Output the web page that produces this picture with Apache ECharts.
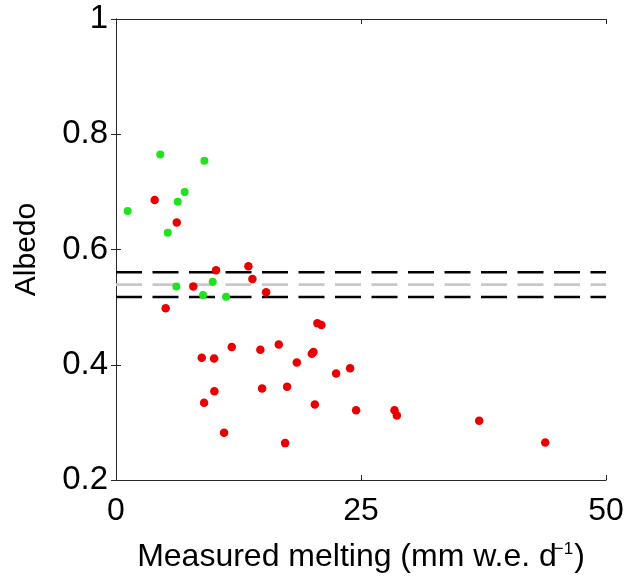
<!DOCTYPE html>
<html>
<head>
<meta charset="utf-8">
<script src="https://cdn.jsdelivr.net/npm/echarts@6/dist/echarts.min.js"></script>
<style>
html,body{margin:0;padding:0;background:#fff;}
#chart{width:629px;height:580px;}
</style>
</head>
<body>
<div id="chart"></div>
<script>
// Red points: [measured melting, albedo]
var redPoints = [
  [3.95,0.686],[6.20,0.647],[10.21,0.564],[13.51,0.571],[13.92,0.549],[7.89,0.536],
  [15.32,0.526],[5.07,0.498],[8.75,0.412],[10.01,0.411],[11.81,0.431],[14.73,0.426],
  [16.61,0.435],[18.45,0.404],[10.04,0.354],[8.99,0.334],[14.91,0.359],[17.46,0.362],
  [11.03,0.282],[17.26,0.264],[20.55,0.472],[20.96,0.469],[20.15,0.422],[19.98,0.419],
  [22.46,0.385],[23.89,0.394],[20.29,0.331],[24.50,0.321],[28.42,0.321],[28.66,0.312],
  [37.06,0.303],[43.80,0.265]
];
// Green points
var greenPoints = [
  [1.19,0.667],[4.52,0.765],[9.02,0.754],[7.01,0.700],[6.30,0.683],
  [5.28,0.629],[6.16,0.536],[9.87,0.544],[8.88,0.521],[11.23,0.518]
];
// Horizontal reference levels
var meanLevel = 0.539;
var upperLevel = 0.5605;
var lowerLevel = 0.5175;
var xRange = [0, 50];
var yRange = [0.2, 1];
var xTickInterval = 25;
var yTickInterval = 0.2;

var chart = echarts.init(document.getElementById('chart'), null, {renderer:'canvas'});
var axisLineStyle = {color:'#262626', width:1};
var font = 'Liberation Sans, Arial, Helvetica, sans-serif';

function hline(level, color) {
  return {
    type:'line', data:[[xRange[0],level],[xRange[1],level]],
    symbol:'none', silent:true, z:1,
    lineStyle:{color:color, width:2.6, type:[26,10.5]}
  };
}

chart.setOption({
  animation:false,
  backgroundColor:'#ffffff',
  grid:{left:116, right:23, top:19, bottom:100, show:false},
  xAxis:[{
    type:'value', min:xRange[0], max:xRange[1], interval:xTickInterval,
    position:'bottom',
    name:'Measured melting (mm w.e. d{sup|−1})',
    nameLocation:'middle', nameGap:61,
    nameTextStyle:{fontFamily:font, fontSize:32, color:'#000',
      rich:{sup:{fontFamily:font, fontSize:17, color:'#000', verticalAlign:'top', lineHeight:12, padding:[0,1,0,-3]}}},
    axisLine:{show:true, lineStyle:axisLineStyle},
    axisTick:{show:true, inside:true, length:5, lineStyle:axisLineStyle},
    axisLabel:{fontFamily:font, fontSize:32, color:'#000', margin:15},
    splitLine:{show:false}
  },{
    type:'value', min:xRange[0], max:xRange[1], interval:xTickInterval,
    position:'top',
    axisLine:{show:true, lineStyle:axisLineStyle},
    axisTick:{show:true, inside:true, length:5, lineStyle:axisLineStyle},
    axisLabel:{show:false}, splitLine:{show:false}
  }],
  yAxis:[{
    type:'value', min:yRange[0], max:yRange[1], interval:yTickInterval,
    position:'left',
    name:'Albedo', nameLocation:'middle', nameGap:74,
    nameTextStyle:{fontFamily:font, fontSize:30, color:'#000'},
    axisLine:{show:true, lineStyle:axisLineStyle},
    axisTick:{show:true, inside:true, length:5, lineStyle:axisLineStyle},
    axisLabel:{fontFamily:font, fontSize:33, color:'#000', margin:8},
    splitLine:{show:false}
  },{
    type:'value', min:yRange[0], max:yRange[1], interval:yTickInterval,
    position:'right',
    axisLine:{show:true, lineStyle:axisLineStyle},
    axisTick:{show:true, inside:true, length:5, lineStyle:axisLineStyle},
    axisLabel:{show:false}, splitLine:{show:false}
  }],
  series:[
    hline(upperLevel, '#000000'),
    hline(meanLevel, '#c8c8c8'),
    hline(lowerLevel, '#000000'),
    {type:'scatter', data:redPoints, symbol:'circle', symbolSize:8.5, z:3,
     itemStyle:{color:'#ea0000', opacity:1}},
    {type:'scatter', data:greenPoints, symbol:'circle', symbolSize:8, z:4,
     itemStyle:{color:'#1ee31e', opacity:1}}
  ]
});
</script>
</body>
</html>
